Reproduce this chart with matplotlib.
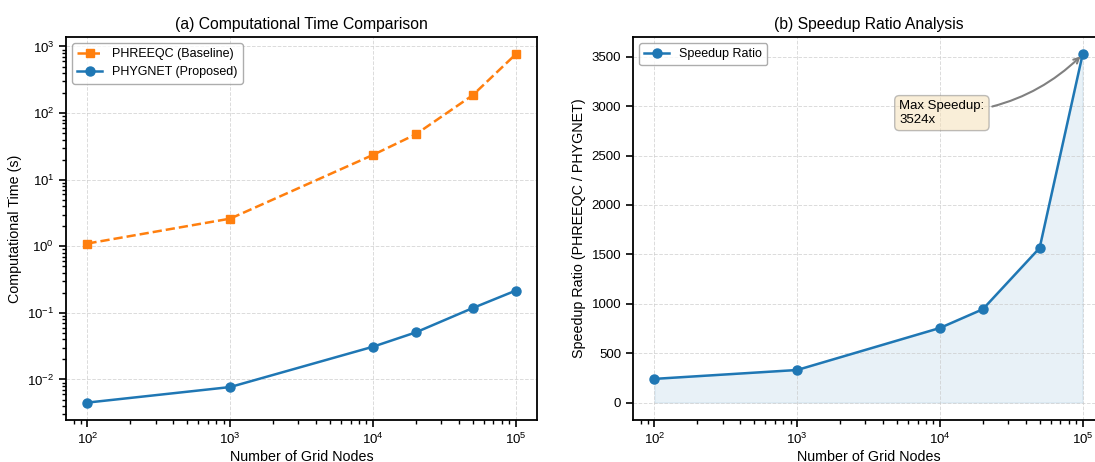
import matplotlib
matplotlib.use("Agg")
from matplotlib import pyplot as plt

plt.rcParams['font.family'] = ['Liberation Sans', 'DejaVu Sans']

# Data
grid_nodes = [100, 1000, 10000, 20000, 50000, 100000]
phreeqc_time = [1.1, 2.6, 23.5, 48, 185, 760]
phygnet_time = [0.0045, 0.0077, 0.031, 0.051, 0.118, 0.2157]
speedup = [240, 330, 755, 945, 1565, 3524]

orange = '#ff7f0e'
blue = '#1f77b4'

fig = plt.figure(figsize=(10.95, 4.62), dpi=100)
ax1 = fig.add_axes([66 / 1095, 42 / 462, 471 / 1095, 383 / 462])
ax2 = fig.add_axes([633 / 1095, 42 / 462, 471 / 1095, 383 / 462])

# (a) computational time
ax1.loglog(grid_nodes, phreeqc_time, '--s', color=orange, lw=1.8, ms=6,
           label='PHREEQC (Baseline)')
ax1.loglog(grid_nodes, phygnet_time, '-o', color=blue, lw=1.8, ms=6.5,
           label='PHYGNET (Proposed)')
ax1.set_xlabel('Number of Grid Nodes', fontsize=10.3, labelpad=2)
ax1.set_ylabel('Computational Time (s)', fontsize=10.3)
ax1.set_title('(a) Computational Time Comparison', fontsize=11.3)
ax1.legend(loc='upper left', fontsize=9, edgecolor='#999999')

# (b) speedup ratio
ax2.semilogx(grid_nodes, speedup, '-o', color=blue, lw=1.8, ms=6.5,
             label='Speedup Ratio')
ax2.fill_between(grid_nodes, 0, speedup, color=blue, alpha=0.1)
ax2.set_xlabel('Number of Grid Nodes', fontsize=10.3, labelpad=2)
ax2.set_ylabel('Speedup Ratio (PHREEQC / PHYGNET)', fontsize=10.3)
ax2.set_title('(b) Speedup Ratio Analysis', fontsize=11.3)
ax2.legend(loc='upper left', fontsize=9, edgecolor='#999999')
ax2.annotate(f'Max Speedup:\n{speedup[-1]}x', xy=(grid_nodes[-1], speedup[-1]),
             xytext=(5200, 2930), fontsize=9.5, ha='left', va='center',
             bbox=dict(boxstyle='round,pad=0.35', fc='wheat', ec='gray', alpha=0.5),
             arrowprops=dict(arrowstyle='->', color='gray', lw=1.5,
                             connectionstyle='arc3,rad=0.2'))

for ax in (ax1, ax2):
    ax.grid(True, which='major', ls='--', color='#cccccc', alpha=0.7, lw=0.7)
    for sp in ax.spines.values():
        sp.set_linewidth(1.3)
    ax.tick_params(which='major', length=5, width=1.2, labelsize=9.5)
    ax.tick_params(which='minor', length=3, width=1)

fig.savefig('out.png', dpi=100)
